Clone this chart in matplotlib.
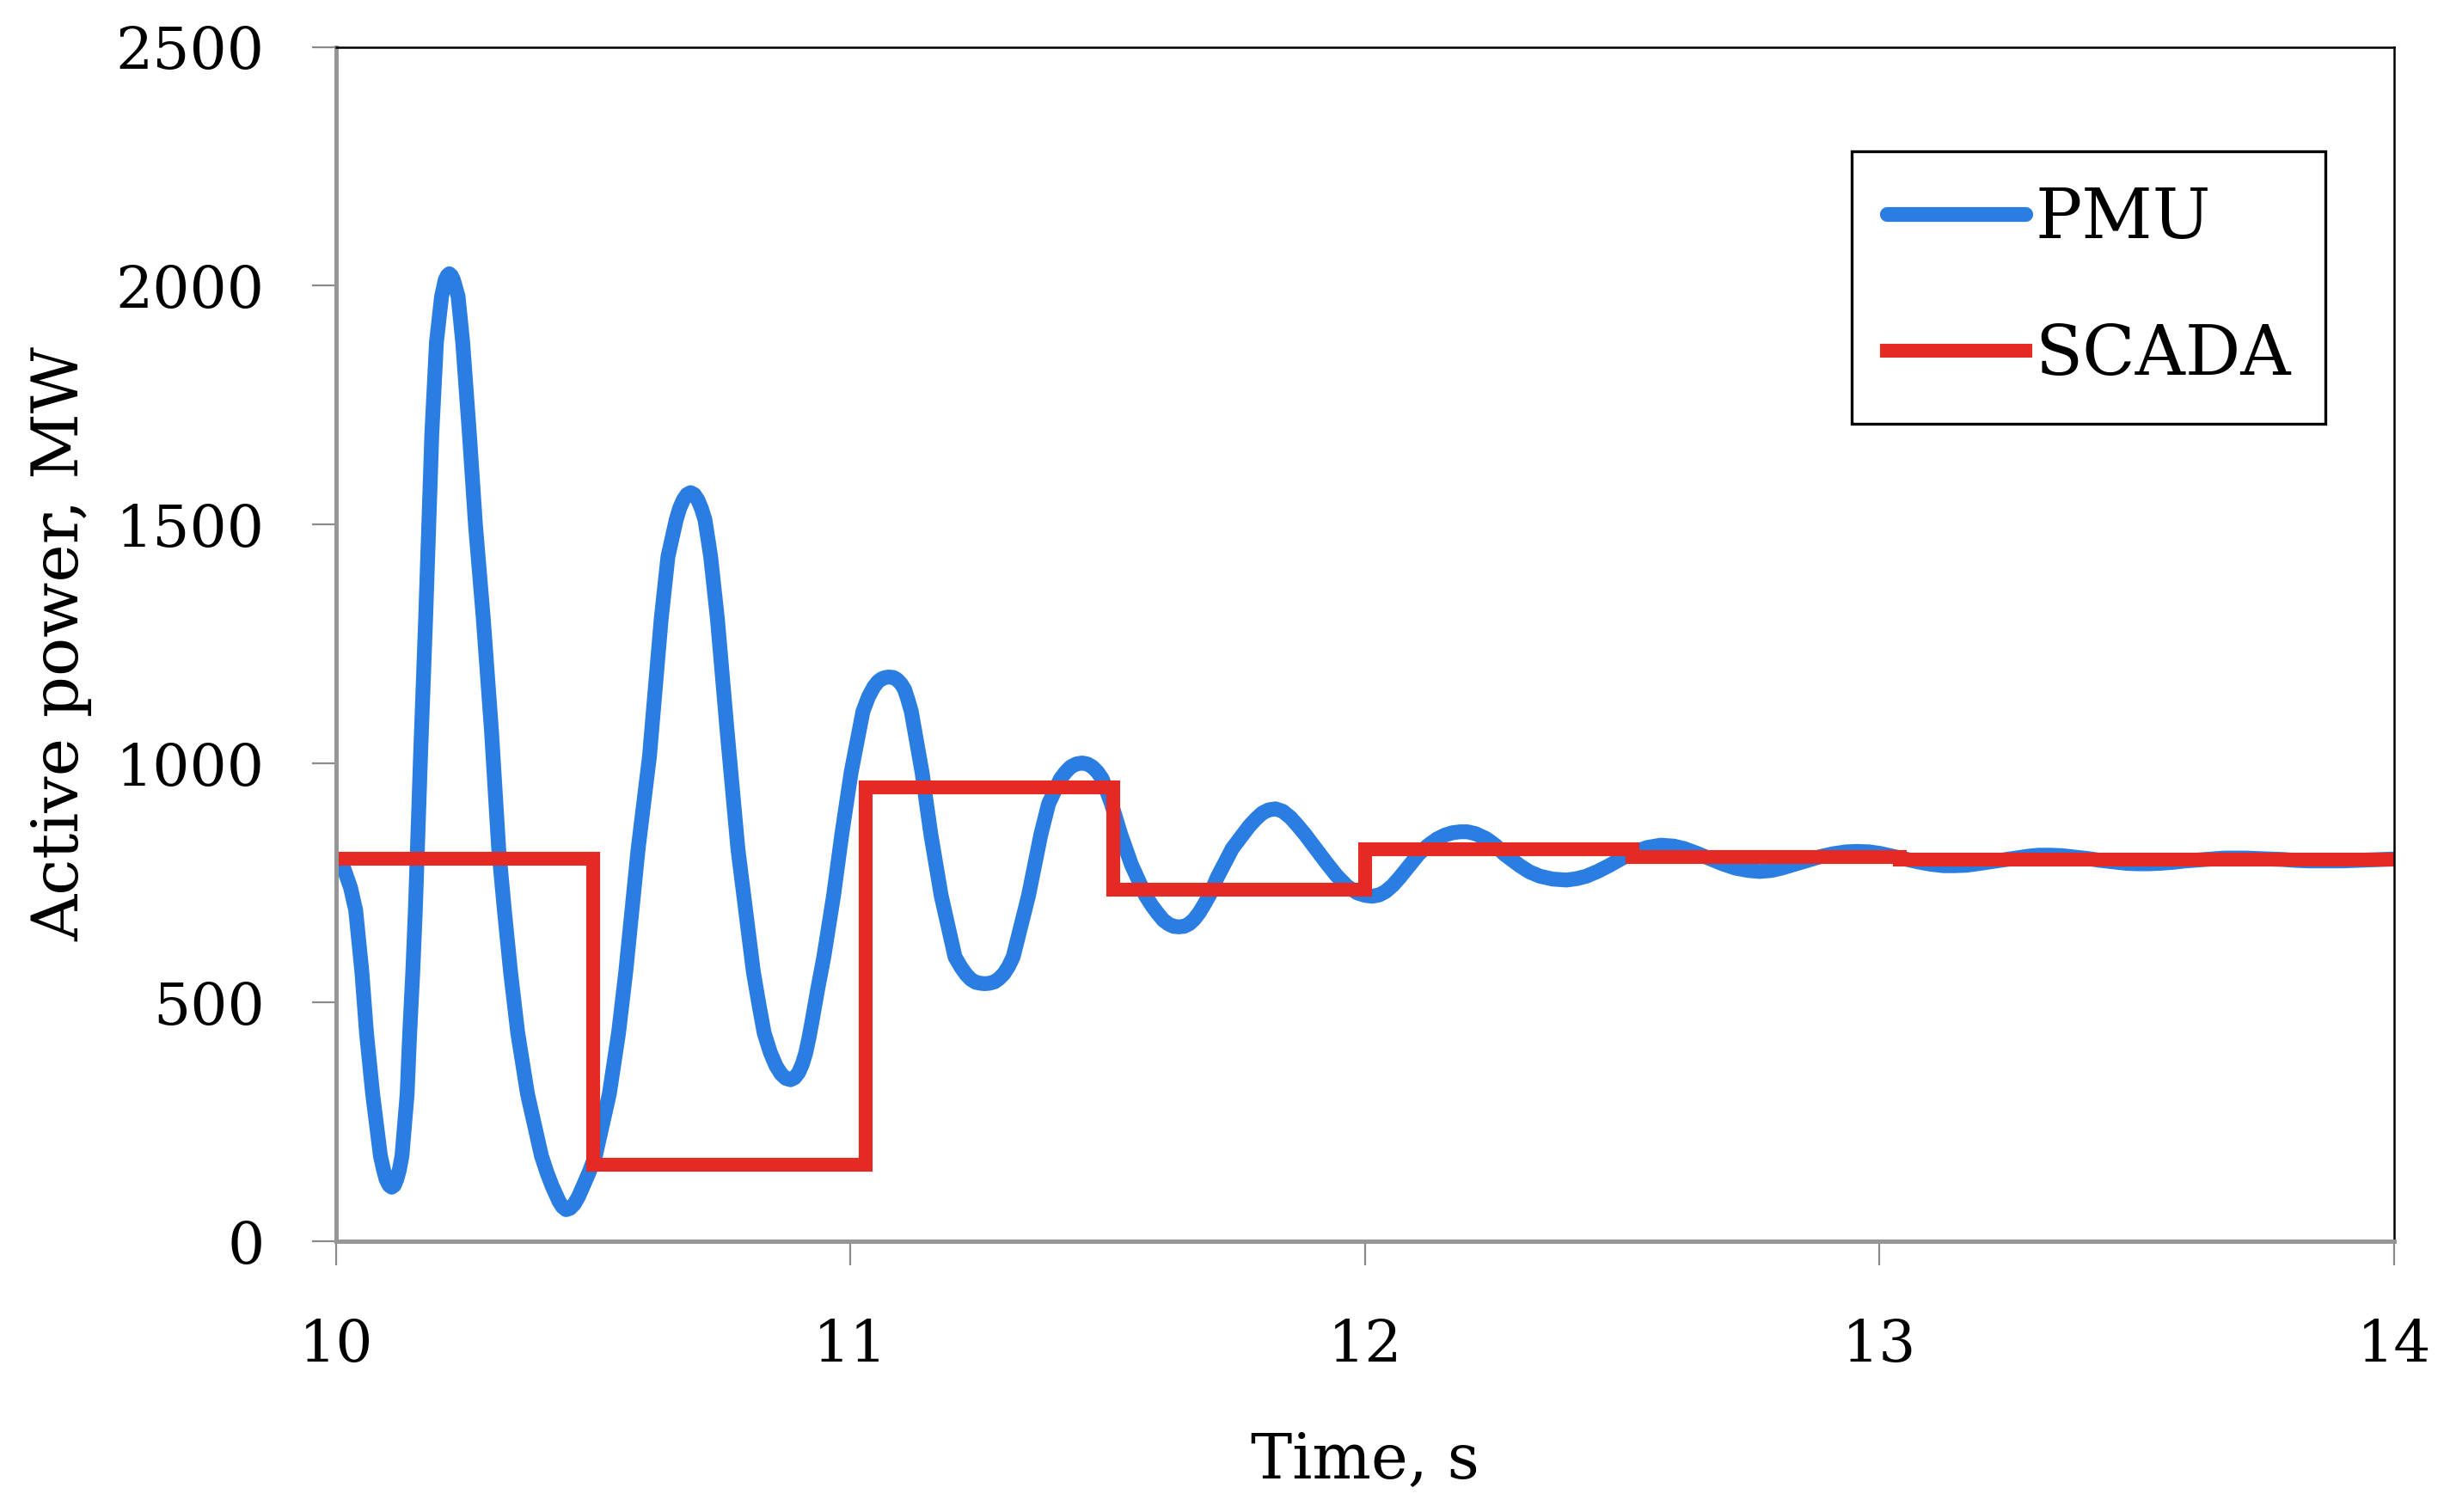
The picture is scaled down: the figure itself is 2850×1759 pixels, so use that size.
import matplotlib
matplotlib.use('Agg')
import matplotlib.pyplot as plt

# PMU active power samples (time s, MW)
pmu_t = [10.000, 10.015, 10.028, 10.038, 10.050, 10.059, 10.071, 10.086, 10.092,
         10.097, 10.103, 10.108, 10.113, 10.118, 10.123, 10.128, 10.138, 10.143,
         10.149, 10.154, 10.158, 10.164, 10.174, 10.180, 10.186, 10.195, 10.205,
         10.212, 10.216, 10.220, 10.224, 10.228, 10.237, 10.246, 10.259, 10.271,
         10.286, 10.302, 10.316, 10.327, 10.339, 10.353, 10.372, 10.399, 10.410,
         10.420, 10.433, 10.440, 10.447, 10.455, 10.463, 10.471, 10.480, 10.492,
         10.504, 10.531, 10.549, 10.563, 10.575, 10.587, 10.609, 10.632, 10.645,
         10.661, 10.668, 10.675, 10.682, 10.689, 10.696, 10.703, 10.710, 10.717,
         10.728, 10.741, 10.760, 10.781, 10.796, 10.811, 10.822, 10.832, 10.844,
         10.855, 10.865, 10.874, 10.883, 10.891, 10.899, 10.906, 10.913, 10.919,
         10.925, 10.936, 10.948, 10.967, 10.983, 11.001, 11.024, 11.035, 11.045,
         11.053, 11.060, 11.068, 11.075, 11.083, 11.090, 11.098, 11.105, 11.111,
         11.118, 11.139, 11.156, 11.176, 11.203, 11.215, 11.225, 11.234, 11.243,
         11.252, 11.261, 11.270, 11.280, 11.289, 11.298, 11.307, 11.316, 11.346,
         11.370, 11.385, 11.408, 11.418, 11.428, 11.439, 11.450, 11.460, 11.470,
         11.480, 11.489, 11.507, 11.525, 11.546, 11.573, 11.586, 11.598, 11.608,
         11.618, 11.628, 11.638, 11.648, 11.658, 11.668, 11.678, 11.688, 11.698,
         11.713, 11.742, 11.775, 11.788, 11.800, 11.813, 11.826, 11.840, 11.855,
         11.869, 11.883, 11.925, 11.945, 11.965, 11.985, 12.000, 12.014, 12.028,
         12.040, 12.054, 12.068, 12.104, 12.122, 12.140, 12.155, 12.170, 12.185,
         12.199, 12.215, 12.235, 12.253, 12.271, 12.301, 12.320, 12.340, 12.365,
         12.392, 12.412, 12.430, 12.452, 12.474, 12.497, 12.520, 12.548, 12.575,
         12.600, 12.620, 12.645, 12.670, 12.695, 12.720, 12.745, 12.767, 12.790,
         12.810, 12.835, 12.860, 12.885, 12.910, 12.935, 12.956, 12.980, 13.000,
         13.025, 13.050, 13.075, 13.100, 13.125, 13.145, 13.170, 13.190, 13.215,
         13.240, 13.265, 13.290, 13.310, 13.332, 13.355, 13.380, 13.405, 13.430,
         13.455, 13.480, 13.500, 13.523, 13.545, 13.570, 13.595, 13.620, 13.645,
         13.670, 13.690, 13.713, 13.735, 13.760, 13.785, 13.810, 13.835, 13.860,
         13.880, 13.900, 13.925, 13.950, 13.975, 14.000]
pmu_p = [800, 780, 740, 693, 564, 436, 308, 179, 150,
         130, 117, 113, 117, 130, 150, 179, 308, 436,
         564, 693, 821, 1014, 1304, 1497, 1690, 1882, 1978,
         2012, 2021, 2025, 2021, 2012, 1978, 1882, 1690, 1497,
         1304, 1068, 821, 693, 564, 436, 308, 179, 143,
         115, 84, 72, 66, 69, 78, 93, 115, 145,
         179, 308, 436, 564, 693, 821, 1014, 1304, 1433,
         1510, 1535, 1552, 1563, 1567, 1563, 1552, 1534, 1510,
         1433, 1304, 1068, 821, 693, 564, 495, 436, 395,
         367, 350, 341, 338, 342, 353, 370, 395, 425,
         460, 527, 595, 724, 852, 981, 1109, 1140, 1160,
         1171, 1177, 1180, 1181, 1180, 1176, 1167, 1155, 1135,
         1109, 981, 852, 724, 595, 573, 558, 548, 542,
         540, 539, 540, 543, 550, 560, 575, 595, 724,
         852, 916, 968, 982, 993, 999, 1001, 999, 993,
         982, 968, 916, 852, 788, 724, 702, 685, 672,
         664, 659, 658, 659, 664, 674, 688, 706, 725,
         762, 822, 869, 884, 896, 903, 905, 900, 887,
         870, 852, 792, 765, 743, 729, 724, 722, 725,
         732, 745, 762, 810, 828, 842, 850, 855, 857,
         857, 853, 843, 829, 810, 786, 773, 764, 758,
         756, 759, 764, 774, 786, 800, 813, 824, 829,
         827, 822, 812, 801, 790, 781, 776, 774, 776,
         781, 789, 797, 805, 811, 815, 816, 815, 812,
         806, 800, 794, 789, 786, 786, 787, 790, 794,
         798, 802, 806, 808, 808, 807, 804, 801, 797,
         794, 791, 790, 790, 791, 793, 796, 798, 800,
         802, 802, 802, 801, 800, 799, 797, 796, 796,
         796, 796, 797, 798, 799, 800]

# SCADA readings (held until the next update)
scada_t = [10.0, 10.5, 11.03, 11.51, 12.0, 12.52, 13.04, 14.0]
scada_p = [800, 160, 950, 735, 820, 805, 798, 798]

x_ticks = [10, 11, 12, 13, 14]
y_ticks = [0, 500, 1000, 1500, 2000, 2500]

plt.rcParams['font.family'] = ['DejaVu Serif']

fig = plt.figure(figsize=(14.25, 8.795), dpi=200)
ax = fig.add_axes([0.1372, 0.1791, 0.8399, 0.7899])

ax.plot(pmu_t, pmu_p, color='#2a7de1', lw=6.2, solid_joinstyle='round',
        solid_capstyle='round', label='PMU')
ax.plot(scada_t, scada_p, color='#e52a25', lw=5.8, drawstyle='steps-post',
        solid_joinstyle='miter', label='SCADA')

ax.set_xlim(10, 14)
ax.set_ylim(0, 2500)
ax.set_xticks(x_ticks)
ax.set_yticks(y_ticks)
ax.set_xticklabels([str(v) for v in x_ticks])
ax.set_yticklabels([str(v) for v in y_ticks])

# spines: grey left/bottom, thin black top/right
for side in ['left', 'bottom']:
    ax.spines[side].set_color('#969696')
    ax.spines[side].set_linewidth(1.8)
for side in ['top', 'right']:
    ax.spines[side].set_color('black')
    ax.spines[side].set_linewidth(0.9)

ax.tick_params(axis='both', direction='out', length=10, width=0.8,
               color='#8a8a8a', labelsize=24.5)
ax.tick_params(axis='x', pad=22)
ax.tick_params(axis='y', pad=20)

ax.set_xlabel('Time, s', fontsize=26, labelpad=24)
ax.set_ylabel('Active power, MW', fontsize=27, labelpad=10)

leg = ax.legend(loc='upper right', bbox_to_anchor=(0.9666, 0.9126),
                borderaxespad=0, fontsize=29, handlelength=2.0,
                handletextpad=0.14, labelspacing=1.0, borderpad=0.5,
                fancybox=False, framealpha=1)
leg.get_frame().set_edgecolor('black')
leg.get_frame().set_linewidth(1.2)

fig.savefig('out.png', dpi=200)
